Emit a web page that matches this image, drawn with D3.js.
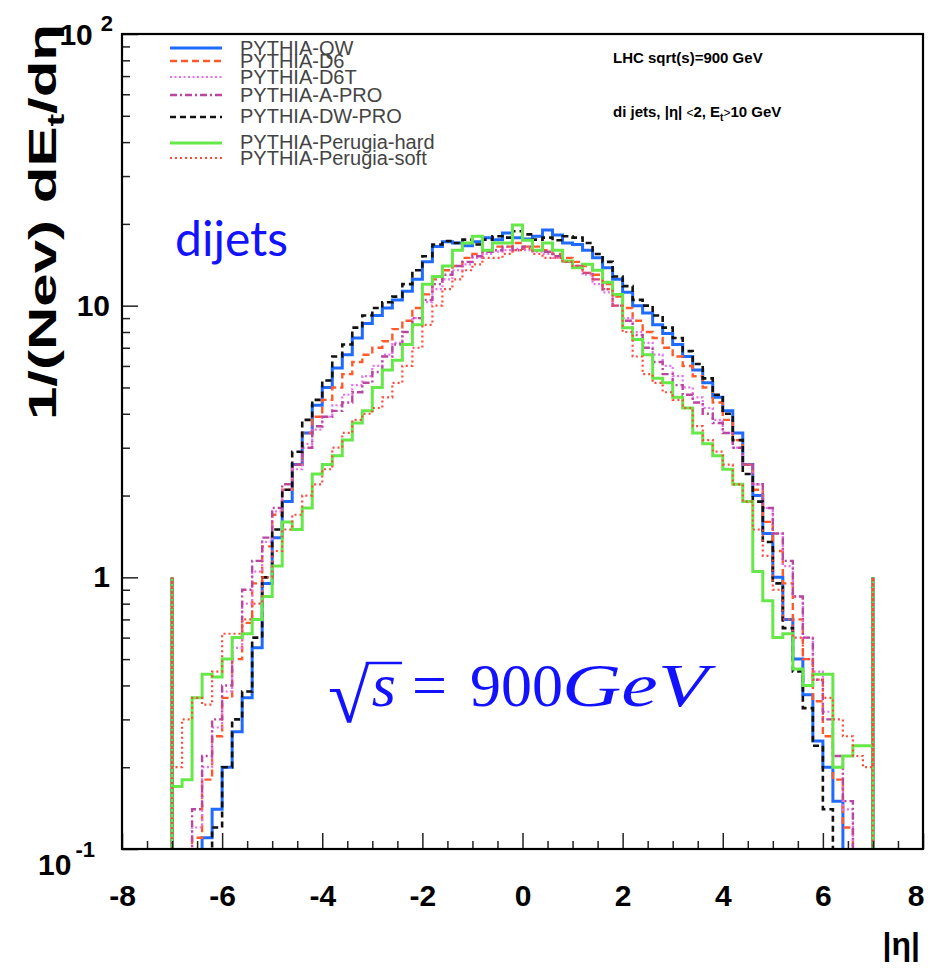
<!DOCTYPE html>
<html>
<head>
<meta charset="utf-8">
<script src="https://cdn.jsdelivr.net/npm/d3@7"></script>
<style>
  body { margin: 0; background: #fff; }
  svg text { font-family: "Liberation Sans", Arial, sans-serif; }
</style>
</head>
<body>
<div id="wrapper"></div>
<script>
// histogram binning: 70 bins of 0.2 from -7 to 7
const binLow = -7
const binWidth = 0.2

const seriesNames = ["PYTHIA-QW", "PYTHIA-D6", "PYTHIA-D6T", "PYTHIA-A-PRO", "PYTHIA-DW-PRO", "PYTHIA-Perugia-hard", "PYTHIA-Perugia-soft"]

// bin contents (0 = below the 0.1 axis minimum)
const qwValues = [0, 0, 0, 0.11, 0.14, 0.2, 0.27, 0.36, 0.55, 0.95,
  1.4, 1.9, 2.6, 3.4, 4.3, 5.0, 5.9, 6.6, 7.6, 8.6,
  9.2, 9.8, 10.5, 11.3, 12.5, 14.5, 16.5, 17.2, 17.0, 16.6,
  17.2, 17.8, 17.5, 18.5, 17.8, 17.6, 18.0, 19.0, 18.2, 17.0,
  16.8, 16.0, 15.0, 13.8, 12.5, 11.2, 10.0, 9.4, 8.5, 7.9,
  7.2, 6.5, 5.8, 5.2, 4.6, 4.1, 3.4, 2.6, 2.0, 1.45,
  1.0, 0.7, 0.5, 0.37, 0.25, 0.2, 0.15, 0, 0, 0]

const d6Values = [0, 0, 0.11, 0.18, 0.26, 0.36, 0.5, 0.68, 0.95, 1.3,
  1.7, 2.1, 2.6, 3.4, 3.9, 4.5, 5.0, 5.6, 6.2, 6.6,
  7.0, 7.4, 8.2, 8.8, 9.8, 11.0, 12.5, 13.5, 14.0, 15.0,
  15.5, 16.0, 16.5, 16.5, 17.0, 16.5, 16.5, 16.0, 15.5, 15.0,
  14.5, 14.0, 13.0, 12.0, 10.8, 9.8, 8.8, 8.0, 7.6, 7.0,
  6.5, 6.0, 5.5, 5.0, 4.4, 3.8, 3.2, 2.6, 2.1, 1.6,
  1.25, 0.95, 0.7, 0.5, 0.35, 0.26, 0.18, 0.12, 0, 0]

const d6tValues = [0, 0, 0.12, 0.2, 0.28, 0.38, 0.55, 0.8, 1.05, 1.35,
  1.75, 2.1, 2.5, 3.1, 3.5, 3.9, 4.3, 4.7, 5.1, 5.5,
  6.0, 6.6, 7.3, 8.0, 9.0, 10.3, 11.5, 12.5, 13.5, 14.2,
  15.0, 15.5, 15.8, 16.0, 16.2, 16.0, 15.8, 15.5, 15.0, 14.5,
  13.8, 13.0, 12.0, 11.2, 10.0, 9.0, 8.0, 7.3, 6.6, 6.0,
  5.5, 5.0, 4.6, 4.2, 3.8, 3.4, 3.0, 2.6, 2.2, 1.8,
  1.45, 1.1, 0.85, 0.6, 0.45, 0.32, 0.22, 0.14, 0, 0]

const aproValues = [0, 0, 0.14, 0.22, 0.3, 0.4, 0.6, 0.9, 1.15, 1.4,
  1.8, 2.2, 2.6, 3.0, 3.6, 3.9, 4.1, 4.4, 4.8, 5.2,
  5.7, 6.5, 7.2, 8.0, 9.0, 10.5, 12.0, 13.0, 14.0, 14.5,
  15.2, 15.8, 16.0, 16.5, 16.0, 16.5, 16.0, 15.8, 15.2, 14.5,
  14.0, 13.2, 12.5, 11.5, 10.0, 8.8, 7.8, 7.0, 6.2, 5.6,
  5.1, 4.7, 4.4, 4.0, 3.7, 3.4, 3.0, 2.6, 2.2, 1.8,
  1.45, 1.15, 0.85, 0.6, 0.42, 0.3, 0.22, 0.15, 0, 0]

const dwproValues = [0, 0, 0, 0, 0.12, 0.2, 0.3, 0.38, 0.6, 1.0,
  1.5, 2.1, 2.9, 3.8, 4.5, 5.3, 6.5, 7.2, 8.3, 9.2,
  9.8, 10.3, 10.8, 12.0, 13.5, 15.2, 16.8, 17.3, 17.0, 17.5,
  16.8, 17.5, 18.0, 17.8, 18.8, 18.3, 17.5, 17.8, 17.4, 18.0,
  17.8, 17.0, 15.5, 14.5, 12.8, 11.8, 10.5, 10.0, 9.2, 8.3,
  7.6, 6.8, 6.1, 5.4, 4.7, 4.0, 3.2, 2.4, 1.9, 1.35,
  0.95, 0.65, 0.45, 0.33, 0.24, 0.14, 0, 0, 0, 0]

const hardValues = [0.17, 0.18, 0.36, 0.44, 0.43, 0.5, 0.6, 0.62, 0.7, 0.85,
  1.1, 1.6, 1.5, 1.8, 2.4, 2.6, 2.8, 3.2, 3.7, 4.1,
  5.0, 5.8, 6.3, 7.2, 8.5, 12.0, 12.8, 14.0, 16.0, 17.0,
  18.0, 16.0, 17.0, 17.0, 19.8, 17.4, 16.0, 17.0, 16.0, 14.6,
  13.8, 14.2, 13.5, 12.2, 11.0, 8.3, 7.5, 6.6, 5.4, 5.2,
  4.6, 4.2, 3.4, 3.1, 2.8, 2.5, 2.2, 1.9, 1.05, 0.82,
  0.6, 0.62, 0.46, 0.4, 0.44, 0.44, 0.2, 0.22, 0.24, 0.24]

const softValues = [0.2, 0.3, 0.36, 0.34, 0.45, 0.62, 0.62, 0.7, 0.8, 1.0,
  1.25, 1.5, 1.7, 2.0, 2.2, 2.5, 3.0, 3.4, 3.8, 4.0,
  4.2, 4.6, 5.2, 6.0, 7.0, 8.5, 10.0, 11.5, 12.5, 13.5,
  14.2, 15.0, 15.0, 15.5, 16.0, 16.2, 15.5, 15.0, 15.0, 14.5,
  14.0, 13.2, 12.5, 11.5, 10.0, 8.0, 6.5, 5.6, 5.2, 4.8,
  4.5, 4.2, 3.6, 3.2, 2.9, 2.6, 2.2, 1.9, 1.5, 1.2,
  0.9, 0.7, 0.6, 0.5, 0.42, 0.36, 0.3, 0.26, 0.22, 0.2]

// the single-bin spikes at |eta| = 7
const spikeValues = [1, 1, 1, 1, 1, 1, 1]

const xTickValues = [-8, -6, -4, -2, 0, 2, 4, 6, 8]
const yTickValues = [0.1, 1, 10, 100]

const seriesValues = [qwValues, d6Values, d6tValues, aproValues, dwproValues, hardValues, softValues]
const seriesColors = ["#1f6bff", "#ff5a2c", "#ea6ef2", "#b9479f", "#111111", "#66e84a", "#ff4a3a"]
const seriesDash = [null, "7,4", "2,2.5", "7,3,2,3", "6,4", null, "2,3"]
const seriesWidth = [3, 2.4, 2.2, 2.4, 2.6, 3, 2.2]

function chartDraw() {
    var dimensions = {
        width: 930,
        height: 970,
        margin: { top: 34, right: 7, bottom: 121, left: 122 },
    }
    dimensions.boundedWidth = dimensions.width - dimensions.margin.left - dimensions.margin.right
    dimensions.boundedHeight = dimensions.height - dimensions.margin.top - dimensions.margin.bottom

    const wrapper = d3.select("#wrapper").html("")
        .append("svg")
        .attr("width", dimensions.width)
        .attr("height", dimensions.height)

    const bounds = wrapper.append("g")
        .attr("transform", `translate(${dimensions.margin.left},${dimensions.margin.top})`)

    const xScaler = d3.scaleLinear()
        .domain([-8, 8])
        .range([0, dimensions.boundedWidth])

    const yScaler = d3.scaleLog()
        .domain([0.1, 100])
        .range([dimensions.boundedHeight, 0])

    bounds.append("clipPath").attr("id", "plotClip")
        .append("rect")
        .attr("width", dimensions.boundedWidth)
        .attr("height", dimensions.boundedHeight)

    const yPos = v => v >= 0.1 ? yScaler(v) : dimensions.boundedHeight + 5

    function histPoints(values, spike) {
        const xStart = xScaler(binLow)
        const pts = [[xStart, dimensions.boundedHeight + 5], [xStart, yPos(spike)]]
        values.forEach((v, i) => {
            pts.push([xScaler(binLow + i * binWidth), yPos(v)])
            pts.push([xScaler(binLow + (i + 1) * binWidth), yPos(v)])
        })
        const xEnd = xScaler(binLow + values.length * binWidth)
        pts.push([xEnd, yPos(spike)], [xEnd, dimensions.boundedHeight + 5])
        return pts
    }

    const lineGen = d3.line()
    const histGroup = bounds.append("g").attr("clip-path", "url(#plotClip)")
    seriesValues.forEach((vals, i) => {
        histGroup.append("path")
            .attr("d", lineGen(histPoints(vals, spikeValues[i])))
            .attr("fill", "none")
            .attr("stroke", seriesColors[i])
            .attr("stroke-width", seriesWidth[i])
            .attr("stroke-dasharray", seriesDash[i])
    })

    // axes, ticks drawn inward like ROOT
    const xAxisGen = d3.axisBottom(xScaler)
        .tickValues(xTickValues)
        .tickFormat(d => String(d))
        .tickSizeInner(-16).tickSizeOuter(0).tickPadding(36)
    const xAxis = bounds.append("g")
        .attr("transform", `translate(0,${dimensions.boundedHeight})`)
        .call(xAxisGen)
    // keep the last label inside the page
    xAxis.selectAll(".tick text").filter(d => d === 8)
        .attr("text-anchor", "end").attr("dx", 1)
    const xMinorGen = d3.axisBottom(xScaler)
        .tickValues(d3.range(-7.5, 8, 0.5).filter(d => d % 2 !== 0))
        .tickFormat("").tickSizeInner(-8).tickSizeOuter(0)
    const xMinor = bounds.append("g")
        .attr("transform", `translate(0,${dimensions.boundedHeight})`)
        .call(xMinorGen)

    const yAxisGen = d3.axisLeft(yScaler)
        .tickValues(yTickValues)
        .tickFormat(d => (d === 1 || d === 10) ? String(d) : "")
        .tickSizeInner(-16).tickSizeOuter(0).tickPadding(12)
    const yAxis = bounds.append("g").call(yAxisGen)
    const yMinorVals = []
    ;[0.1, 1, 10].forEach(dec => { for (let k = 2; k <= 9; k++) yMinorVals.push(dec * k) })
    const yMinorGen = d3.axisLeft(yScaler)
        .tickValues(yMinorVals).tickFormat("").tickSizeInner(-8).tickSizeOuter(0)
    const yMinor = bounds.append("g").call(yMinorGen)

    bounds.selectAll(".domain").remove()
    bounds.selectAll(".tick line").attr("stroke", "#222").attr("stroke-width", 1.5)
    bounds.selectAll(".tick text")
        .attr("font-size", "30px").attr("font-weight", "bold").attr("fill", "#000")
        .style("font-family", "'Liberation Sans', Arial, sans-serif")

    // power-of-ten labels
    const topLabel = bounds.append("text")
        .attr("x", -9).attr("y", yScaler(100) + 11)
        .attr("text-anchor", "end").attr("font-weight", "bold")
    topLabel.append("tspan").attr("font-size", "30px").text("10")
    topLabel.append("tspan").attr("font-size", "22px").attr("dx", 8).attr("dy", -14).text("2")

    const bottomLabel = bounds.append("text")
        .attr("x", -27).attr("y", yScaler(0.1) + 26)
        .attr("text-anchor", "end").attr("font-weight", "bold")
    bottomLabel.append("tspan").attr("font-size", "30px").text("10")
    bottomLabel.append("tspan").attr("font-size", "22px").attr("dx", 4).attr("dy", -18).text("-1")

    // frame
    bounds.append("rect")
        .attr("width", dimensions.boundedWidth)
        .attr("height", dimensions.boundedHeight)
        .attr("fill", "none").attr("stroke", "#000").attr("stroke-width", 2.2)

    // axis titles
    const yLabel = wrapper.append("text")
        .attr("transform", "translate(56,24) rotate(-90)")
        .attr("text-anchor", "end")
        .attr("font-size", "38px").attr("font-weight", "bold")
        .attr("textLength", 396).attr("lengthAdjust", "spacingAndGlyphs")
    yLabel.append("tspan").text("1/(Nev) dE")
    yLabel.append("tspan").attr("font-size", "24px").attr("dy", 8).text("t")
    yLabel.append("tspan").attr("dy", -8).text("/dη")

    wrapper.append("text")
        .attr("x", 920).attr("y", 955)
        .attr("text-anchor", "end")
        .attr("font-size", "32px").attr("font-weight", "bold")
        .text("|η|")

    // legend
    const legendLineY = [48, 61, 77, 95, 117, 143, 158]
    const legendTextY = [55, 68, 84, 102, 123, 149, 165]
    seriesNames.forEach((name, i) => {
        wrapper.append("line")
            .attr("x1", 170).attr("x2", 222)
            .attr("y1", legendLineY[i]).attr("y2", legendLineY[i])
            .attr("stroke", seriesColors[i])
            .attr("stroke-width", seriesWidth[i])
            .attr("stroke-dasharray", seriesDash[i])
        wrapper.append("text")
            .attr("x", 240).attr("y", legendTextY[i])
            .attr("font-size", "20px").attr("fill", "#444")
            .text(name)
    })

    // annotations
    wrapper.append("text")
        .attr("x", 613).attr("y", 63)
        .attr("font-size", "15px").attr("font-weight", "bold")
        .text("LHC sqrt(s)=900 GeV")
    const cuts = wrapper.append("text")
        .attr("x", 613).attr("y", 117)
        .attr("font-size", "15px").attr("font-weight", "bold")
    cuts.append("tspan").text("di jets, |η| ")
    cuts.append("tspan").attr("font-weight", "normal").attr("font-size", "12px").text("<")
    cuts.append("tspan").text("2, E")
    cuts.append("tspan").attr("font-size", "10px").attr("dy", 4).text("t")
    cuts.append("tspan").attr("font-weight", "normal").attr("font-size", "12px").attr("dy", -4).text(">")
    cuts.append("tspan").text("10 GeV")

    wrapper.append("text")
        .attr("x", 175).attr("y", 256)
        .attr("font-size", "48px").attr("fill", "#1212ff")
        .style("font-family", "Lato, 'Open Sans', sans-serif")
        .text("dijets")

    // sqrt(s) = 900 GeV, set piece by piece like TeX math
    const mathFont = "'Liberation Serif', 'DejaVu Serif', serif"
    const blue = "#1212ff"
    const rad = wrapper.append("text")
        .attr("x", 328).attr("y", 722)
        .attr("fill", blue).attr("font-size", "76px")
        .style("font-family", mathFont)
        .text("√")
    const radEnd = rad.node().getEndPositionOfChar(0).x
    wrapper.append("text")
        .attr("x", radEnd + 2).attr("y", 706)
        .attr("fill", blue).attr("font-size", "62px").attr("font-style", "italic")
        .style("font-family", mathFont)
        .text("s")
    wrapper.append("line")
        .attr("x1", radEnd - 4).attr("x2", 402)
        .attr("y1", 663).attr("y2", 663)
        .attr("stroke", blue).attr("stroke-width", 2.5)
    wrapper.append("text")
        .attr("x", 412).attr("y", 706)
        .attr("fill", blue).attr("font-size", "62px")
        .style("font-family", mathFont)
        .text("=")
    wrapper.append("text")
        .attr("x", 470).attr("y", 706)
        .attr("fill", blue).attr("font-size", "62px")
        .style("font-family", mathFont)
        .text("900")
    wrapper.append("text")
        .attr("x", 562).attr("y", 706)
        .attr("fill", blue).attr("font-size", "62px").attr("font-style", "italic")
        .attr("textLength", 146).attr("lengthAdjust", "spacingAndGlyphs")
        .style("font-family", mathFont)
        .text("GeV")
}

chartDraw()
</script>
</body>
</html>
